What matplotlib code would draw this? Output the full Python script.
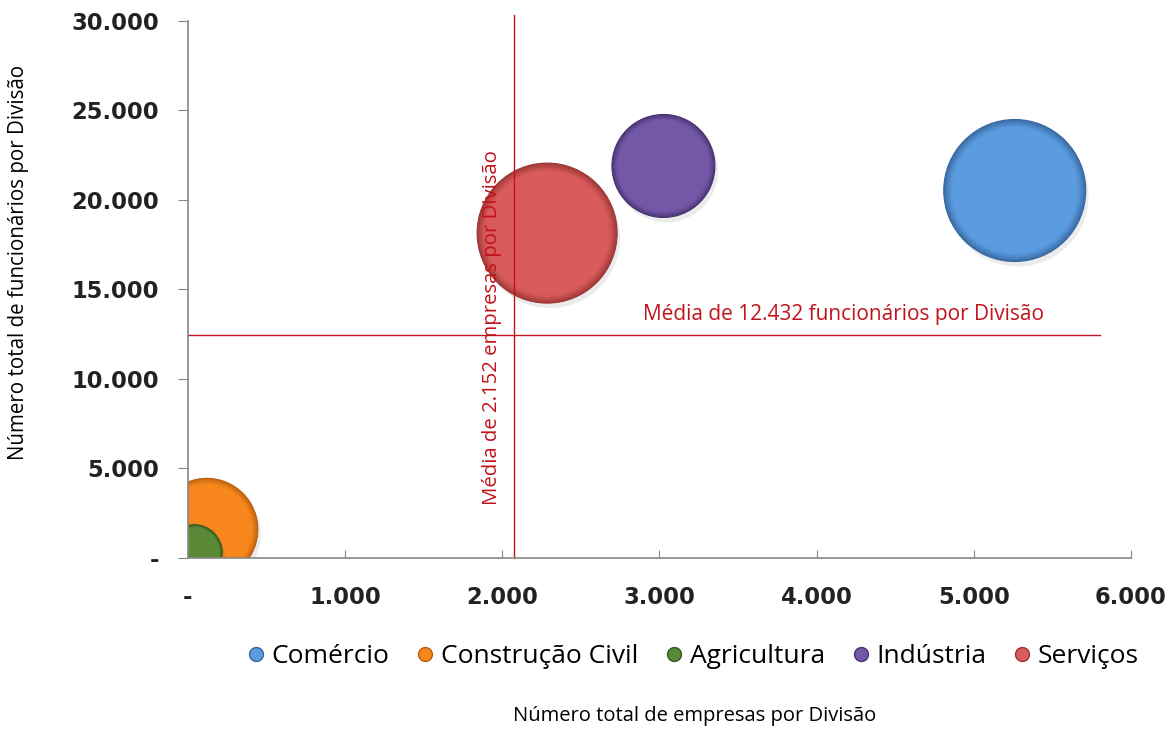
import matplotlib
matplotlib.use('Agg')
import matplotlib.pyplot as plt
from matplotlib.lines import Line2D
from matplotlib.patches import Circle
from matplotlib.transforms import ScaledTranslation
from matplotlib.ticker import FuncFormatter
from matplotlib.colors import to_rgb
import numpy as np

# Dados
categorias = ['Comércio', 'Construção Civil', 'Agricultura', 'Indústria', 'Serviços']
empresas = [5260, 120, 40, 3025, 2285]
funcionarios = [20530, 1600, 300, 21900, 18150]
tamanho = [5040, 2600, 780, 2650, 4900]  # tamanho relativo da bolha (área)

cores = ['#5B9BE0', '#F7861C', '#5A8A38', '#7458A8', '#D95B5B']
bordas = ['#35669E', '#B8600E', '#345A1E', '#463270', '#9A3434']

media_empresas_txt = '2.152'
media_func_txt = '12.432'
linha_empresas = 2076     # posição desenhada da linha vertical
linha_func = 12432

x_ticks = [0, 1000, 2000, 3000, 4000, 5000, 6000]
y_ticks = [0, 5000, 10000, 15000, 20000, 25000, 30000]


def fmt(v, pos=None):
    if v == 0:
        return '-'
    return f'{int(v):,}'.replace(',', '.')


def mix(c1, c2, t):
    a, b = np.array(to_rgb(c1)), np.array(to_rgb(c2))
    return tuple(a * (1 - t) + b * t)


fig = plt.figure(figsize=(11.74, 7.29), dpi=100)
ax = fig.add_axes([0.1601, 0.2346, 0.8033, 0.7366])
ax.set_xlim(0, 6000)
ax.set_ylim(0, 30000)

escala = 0.0100  # raio em polegadas por raiz do tamanho
for i, cat in enumerate(categorias):
    r = np.sqrt(tamanho[i]) * escala
    z = 3 + i * 0.1
    centro = fig.dpi_scale_trans + ScaledTranslation(empresas[i], funcionarios[i], ax.transData)
    # sombra
    ax.add_patch(Circle((0.03, -0.05), r, transform=centro, color='black',
                        alpha=0.08, lw=0, zorder=z - 0.05))
    # borda escura e gradiente até a cor base
    passos = 6
    for k in range(passos):
        f = 1 - k * 0.03
        t = min(1.0, (k + 1) / passos * 1.4)
        ax.add_patch(Circle((0, 0), r * f, transform=centro,
                            color=mix(bordas[i], cores[i], t), lw=0, zorder=z))
    ax.add_patch(Circle((0, 0), r, transform=centro, facecolor='none',
                        edgecolor=bordas[i], lw=0.8, zorder=z + 0.05))

# linhas de média
vermelho = '#C0141C'
ax.plot([linha_empresas, linha_empresas], [0, 30340], color=vermelho, lw=1.0,
        clip_on=False, zorder=5)
ax.plot([0, 5803], [linha_func, linha_func], color=vermelho, lw=1.0,
        clip_on=False, zorder=5)
ax.text(1937, 12900, f'Média de {media_empresas_txt} empresas por Divisão',
        rotation=90, color=vermelho, fontsize=14.7, family='Open Sans',
        ha='center', va='center', zorder=6)
ax.text(4171, 13630, f'Média de {media_func_txt} funcionários por Divisão',
        color=vermelho, fontsize=15, family='Open Sans',
        ha='center', va='center', zorder=6)

ax.set_xticks(x_ticks)
ax.set_yticks(y_ticks)
ax.xaxis.set_major_formatter(FuncFormatter(fmt))
ax.yaxis.set_major_formatter(FuncFormatter(fmt))
ax.tick_params(axis='x', direction='in', length=6, color='#888888', pad=20)
ax.tick_params(axis='y', direction='out', length=7, color='#888888', pad=14)
for lab in ax.get_xticklabels() + ax.get_yticklabels():
    lab.set_fontweight('bold')
    lab.set_fontsize(16.3)
    lab.set_color('#222222')

for side in ['top', 'right']:
    ax.spines[side].set_visible(False)
for side in ['left', 'bottom']:
    ax.spines[side].set_color('#888888')
    ax.spines[side].set_linewidth(1.2)
    ax.spines[side].set_zorder(7)

fig.text(0.016, 0.64, 'Número total de funcionários por Divisão', fontsize=14.8,
         family='Open Sans', rotation=90, ha='center', va='center')
fig.text(0.592, 0.018, 'Número total de empresas por Divisão', fontsize=14.5,
         family='Open Sans', ha='center', va='center')

handles = [Line2D([], [], marker='o', linestyle='none', markersize=10,
                  markerfacecolor=cores[i], markeredgecolor=bordas[i],
                  label=categorias[i]) for i in range(len(categorias))]
fig.legend(handles=handles, loc='center', bbox_to_anchor=(0.585, 0.099),
           ncol=5, frameon=False, handletextpad=-0.2, handlelength=1.6,
           columnspacing=0.55, prop={'family': 'Open Sans', 'size': 19})

fig.savefig('out.png', dpi=100)
